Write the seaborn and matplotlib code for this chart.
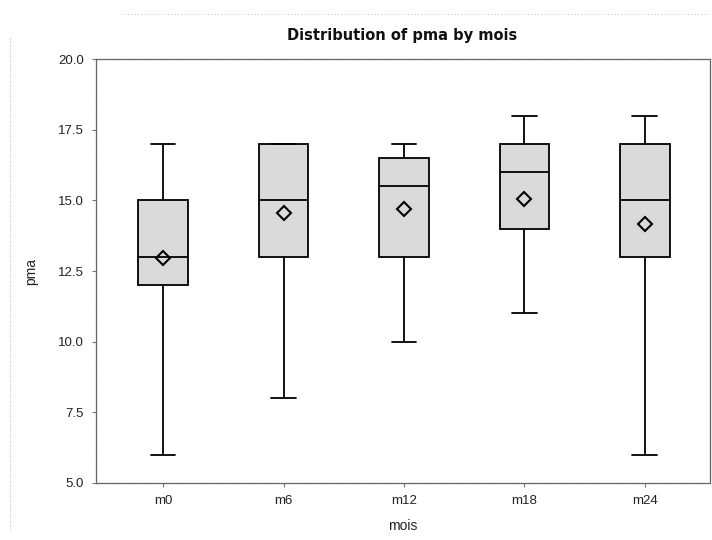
import matplotlib
matplotlib.use("Agg")
import matplotlib.pyplot as plt
import seaborn as sns
import pandas as pd
from matplotlib.lines import Line2D

# ---- data ----
mois = ["m0", "m6", "m12", "m18", "m24"]
whisker_low = [6, 8, 10, 11, 6]
q1 = [12, 13, 13, 14, 13]
median = [13, 15, 15.5, 16, 15]
q3 = [15, 17, 16.5, 17, 17]
whisker_high = [17, 17, 17, 18, 18]
means = [12.95, 14.55, 14.7, 15.05, 14.15]
yticks = [5.0, 7.5, 10.0, 12.5, 15.0, 17.5, 20.0]

rows = []
for i, m in enumerate(mois):
    for v in (whisker_low[i], q1[i], median[i], q3[i], whisker_high[i]):
        rows.append({"mois": m, "pma": v})
df = pd.DataFrame(rows)
mean_df = pd.DataFrame({"mois": mois, "pma": means})

sns.set_theme(style="white")
plt.rcParams["font.family"] = ["Liberation Sans", "DejaVu Sans"]

fig = plt.figure(figsize=(7.12, 5.40), dpi=100)
ax = fig.add_axes([0.135, 0.1056, 0.862, 0.785])

sns.boxplot(data=df, x="mois", y="pma", order=mois, whis=(0, 100),
            width=0.41, color="#dadada", linecolor="black", linewidth=1.3,
            fliersize=0, saturation=1, ax=ax)
sns.pointplot(data=mean_df, x="mois", y="pma", order=mois, errorbar=None,
              linestyle="none", marker="D", color="black",
              markerfacecolor="none", markeredgecolor="black",
              markeredgewidth=1.5, markersize=7, ax=ax)

ax.set_ylim(5, 20)
ax.set_xlim(-0.556, 4.54)
ax.set_yticks(yticks)
ax.set_yticklabels([f"{t:.1f}" for t in yticks], fontsize=9.5, color="#222222")
ax.set_xticks(range(len(mois)))
ax.set_xticklabels(mois, fontsize=9.5, color="#222222")
ax.tick_params(axis="both", which="both", direction="out", length=3,
               width=0.8, color="#777777", bottom=True, left=True, pad=6)
ax.set_xlabel("mois", fontsize=10, color="#222222", labelpad=8)
ax.set_ylabel("pma", fontsize=10, color="#222222", labelpad=14)
for s in ax.spines.values():
    s.set_color("#666666")
    s.set_linewidth(0.9)
    s.set_linestyle((0, (2, 0.6)))

fig.text(0.565, 0.935, "Distribution of pma by mois", ha="center", va="center",
         fontsize=10.5, fontweight="bold", family="DejaVu Sans", color="#111111")

# faint scan border artifacts
fig.add_artist(Line2D([0.014, 0.014], [0.02, 0.93], transform=fig.transFigure,
                      color="#aaaaaa", linewidth=0.6, linestyle=(0, (1, 2))))
fig.add_artist(Line2D([0.17, 0.995], [0.975, 0.975], transform=fig.transFigure,
                      color="#aaaaaa", linewidth=0.6, linestyle=(0, (1, 3))))

fig.savefig("out.png", dpi=100)
